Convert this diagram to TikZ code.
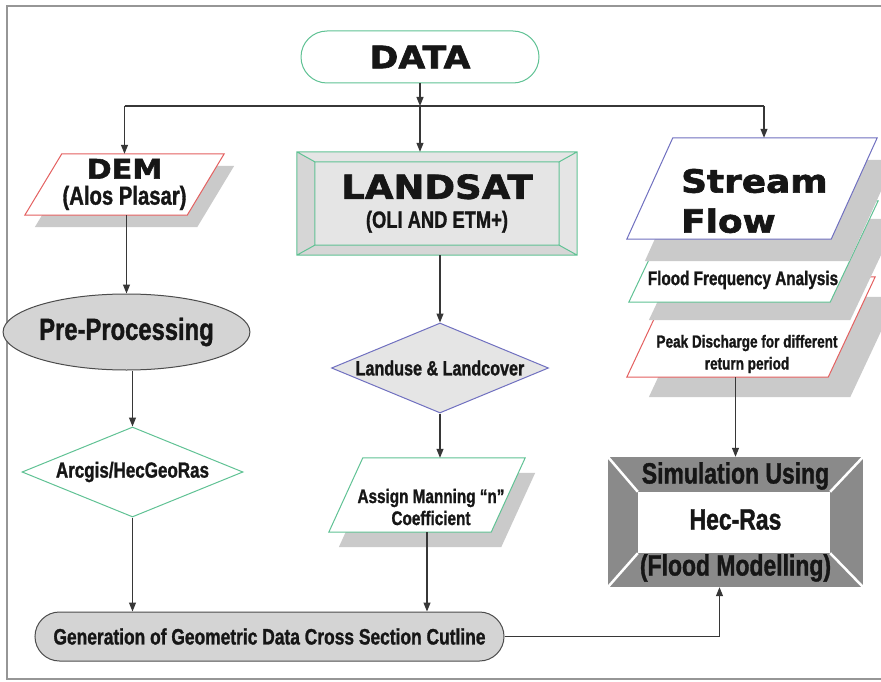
\documentclass[tikz,border=0pt]{standalone}
\usepackage{fontspec}
\usepackage{tikz}
\usetikzlibrary{shapes.geometric,shapes.misc,arrows.meta,backgrounds}

\newfontfamily\heavyfont[FakeStretch=1.12,FakeBold=2]{DejaVu Sans}
\newfontfamily\narrowfont[FakeStretch=0.78,FakeBold=1.2]{Liberation Sans}
\newcommand{\heavytext}[2]{\heavyfont\bfseries\fontsize{#1}{#2}\selectfont}
\newcommand{\narrowtext}[2]{\narrowfont\bfseries\fontsize{#1}{#2}\selectfont}

\definecolor{mintline}{RGB}{96,194,148}
\definecolor{redline}{RGB}{228,96,96}
\definecolor{blueline}{RGB}{112,112,192}
\definecolor{shadowgray}{RGB}{202,202,202}
\definecolor{boxgray}{RGB}{212,212,212}
\definecolor{palegray}{RGB}{229,229,229}
\definecolor{bevelgray}{RGB}{214,214,214}
\definecolor{simgray}{RGB}{138,138,138}
\definecolor{linegray}{RGB}{55,55,55}
\definecolor{framegray}{RGB}{150,150,150}
\definecolor{inkblack}{RGB}{22,22,22}

% slanted box round a node: node, slant, x offset, y offset
\newcommand{\slantbox}[4]{([shift={(#2+#3,#4)}]#1.north west) -- ([shift={(#3,#4)}]#1.north east) -- ([shift={(#3-#2,#4)}]#1.south east) -- ([shift={(#3,#4)}]#1.south west) -- cycle}

\begin{document}
\begin{tikzpicture}[x=1pt,y=-1pt,
    textbox/.style={inner sep=0pt,text=inkblack,align=center},
    flowline/.style={draw=linegray,line width=1.1pt},
    flowarrow/.style={flowline,-{Triangle[length=9pt,width=7pt]}}]
\useasboundingbox (0,0) rectangle (881,682);
\draw[framegray,line width=1.6pt] (881,6) -- (7,6) -- (7,679) -- (881,679);

% top
\node[textbox,rounded rectangle,draw=mintline,line width=1pt,fill=white,minimum width=238pt,minimum height=52pt] (data) at (420,57) {\heavytext{31}{31}DATA};
\coordinate (fork) at (420,106);

% left column
\node[textbox,minimum width=199pt,minimum height=61pt,font=\fontsize{20}{26}\selectfont] (dem) at (124.5,184.5) {{\heavytext{27}{27}DEM}\\{\narrowtext{26}{26}(Alos Plasar)}};
\node[textbox,ellipse,draw=gray!60!black,fill=boxgray,line width=1pt,minimum width=223pt,minimum height=76pt] (pre) at (126.5,332) {\narrowtext{30.5}{30}Pre-Processing};
\node[textbox,diamond,shape aspect=2.45,draw=mintline,fill=white,line width=1pt,minimum width=221pt,minimum height=90pt] (arcgis) at (132.5,472) {\narrowtext{21.8}{22}Arcgis/HecGeoRas};
\node[textbox,rounded rectangle,draw=gray!60!black,fill=boxgray,line width=1pt,minimum width=469pt,minimum height=49pt] (gen) at (269.5,636.5) {\narrowtext{22.3}{22}Generation of Geometric Data Cross Section Cutline};

% middle column
\node[textbox,minimum width=280pt,minimum height=103pt,font=\fontsize{20}{29}\selectfont] (landsat) at (437,203.5) {{\heavytext{33}{33}LANDSAT}\\{\narrowtext{23.5}{23}(OLI AND ETM+)}};
\node[textbox,diamond,shape aspect=2.4,draw=blueline,fill=palegray,line width=1pt,minimum width=217pt,minimum height=90pt] (landuse) at (440,368) {\narrowtext{20.7}{21}Landuse \& Landcover};
\node[minimum width=196pt,minimum height=74pt,inner sep=0pt] (assign) at (427,495) {};
\node[textbox,font=\narrowtext{19.6}{22}] (assigntext) at (431,507) {Assign Manning “n”\\Coefficient};

% right column
\node[minimum width=250pt,minimum height=101pt,inner sep=0pt] (stream) at (752,188.5) {};
\node[textbox,anchor=west,align=left,font=\heavytext{32}{40}] (streamtext) at (681,201) {Stream\\Flow};
\node[minimum width=249pt,minimum height=101pt,inner sep=0pt] (ffa) at (753.5,251.5) {};
\node[textbox,font=\narrowtext{19.6}{22}] (ffatext) at (743,280) {Flood Frequency Analysis};
\node[minimum width=248pt,minimum height=100pt,inner sep=0pt] (peak) at (751,327) {};
\node[textbox,font=\narrowtext{17.4}{22}] (peaktext) at (747,354) {Peak Discharge for different\\return period};
\node[textbox,minimum width=255pt,minimum height=130pt,font=\narrowtext{29.4}{46}] (sim) at (735.5,522) {Simulation Using\\Hec-Ras\\(Flood Modelling)};

\begin{scope}[on background layer]
  \fill[white] (0,0) rectangle (881,682);
  % DEM
  \fill[shadowgray] \slantbox{dem}{37}{10}{12};
  \draw[redline,fill=white,line width=1pt] \slantbox{dem}{37}{0}{0};
  % LANDSAT
  \coordinate (li1) at ([shift={(18,10)}]landsat.north west);
  \coordinate (li2) at ([shift={(-18,10)}]landsat.north east);
  \coordinate (li3) at ([shift={(-18,-10)}]landsat.south east);
  \coordinate (li4) at ([shift={(18,-10)}]landsat.south west);
  \fill[palegray] (landsat.north west) rectangle (landsat.south east);
  \fill[bevelgray] (landsat.north west) -- (li1) -- (li4) -- (landsat.south west) -- cycle;
  \fill[bevelgray] (landsat.south west) -- (li4) -- (li3) -- (landsat.south east) -- cycle;
  \draw[mintline,line width=1pt] (landsat.north west) rectangle (landsat.south east) (li1) rectangle (li3)
    (landsat.north west) -- (li1) (landsat.north east) -- (li2) (landsat.south east) -- (li3) (landsat.south west) -- (li4);
  % Assign
  \fill[shadowgray] \slantbox{assign}{34}{10}{15};
  \draw[mintline,fill=white,line width=1pt] \slantbox{assign}{34}{0}{0};
  % stream flow stack
  \fill[shadowgray] \slantbox{peak}{47}{22}{20};
  \draw[redline,fill=white,line width=1pt] \slantbox{peak}{47}{0}{0};
  \fill[shadowgray] \slantbox{ffa}{48}{20}{18};
  \draw[mintline,fill=white,line width=1pt] \slantbox{ffa}{48}{0}{0};
  \fill[shadowgray] \slantbox{stream}{46}{18}{22};
  \draw[blueline,fill=white,line width=1pt] \slantbox{stream}{46}{0}{0};
  % simulation
  \coordinate (si1) at ([shift={(30,35)}]sim.north west);
  \coordinate (si2) at ([shift={(-33,35)}]sim.north east);
  \coordinate (si3) at ([shift={(-33,-34)}]sim.south east);
  \coordinate (si4) at ([shift={(30,-34)}]sim.south west);
  \fill[simgray] (sim.north west) rectangle (sim.south east);
  \fill[white] (si1) rectangle (si3);
  \draw[white,line width=2.5pt] (sim.north west) -- (si1) (sim.north east) -- (si2) (sim.south east) -- (si3) (sim.south west) -- (si4);
\end{scope}

% connectors
\draw[flowarrow] (data.south) -- (fork);
\coordinate (sftop) at ([xshift=12pt]stream.north);
\draw[flowline] (fork -| dem.north) -- (fork -| sftop);
\draw[flowarrow] (fork -| dem.north) -- (dem.north);
\draw[flowarrow] (fork) -- (fork |- landsat.north);
\draw[flowarrow] (fork -| sftop) -- (sftop);
\draw[flowarrow] (pre.north |- dem.south) -- (pre.north);
\draw[flowarrow] (arcgis.north |- pre.south) -- (arcgis.north);
\draw[flowarrow] (arcgis.south) -- (arcgis.south |- gen.north);
\draw[flowarrow] (landuse.north |- landsat.south) -- (landuse.north);
\draw[flowarrow] (landuse.south) -- (landuse.south |- assign.north);
\draw[flowarrow] (assign.south) -- (assign.south |- gen.north);
\coordinate (simin) at ([xshift=-16pt]sim.south);
\draw[flowarrow] (gen.east) -| (simin);
\draw[flowarrow] (sim.north |- peak.south) -- (sim.north);
\end{tikzpicture}
\end{document}
